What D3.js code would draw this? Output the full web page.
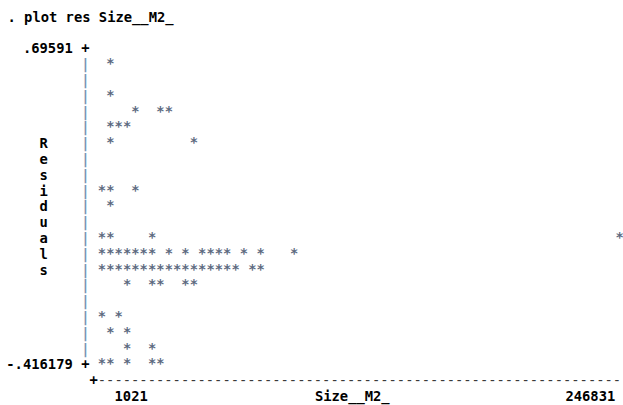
<!DOCTYPE html>
<html>
<head>
<meta charset="utf-8">
<script src="https://cdn.jsdelivr.net/npm/d3@7.9.0/dist/d3.min.js"></script>
<style>
  body { margin: 0; background: #fff; }
  svg text { font-family: "DejaVu Sans Mono", monospace; font-size: 13.8px; }
  .lbl { font-weight: bold; fill: #000; }
  .star { fill: #5d6a80; font-weight: bold; }
  .bar { fill: #7a92b2; font-weight: bold; }
  .dash { fill: #3a3a3a; }
</style>
</head>
<body>
<svg id="chart" width="623" height="405"></svg>
<script>
// residuals vs Size__M2_ (Stata text plot)
const sizeM2 = [
  5200,
  4700,
  17300, 28400, 33100,
  5400, 8600, 13200,
  4900, 44900,
  1900, 5300, 16600,
  4600,
  1500, 5100, 24500, 246831,
  2200, 4800, 9300, 12600, 17100, 20500, 25100, 32500, 40900, 48300, 52800, 56200, 60800, 68700, 76100, 92400,
  1300, 5500, 8800, 13100, 16800, 20900, 24600, 29000, 32900, 36500, 40400, 44800, 48900, 52400, 56700, 60300, 64600, 72200, 76600,
  12800, 24900, 28600, 40500, 44300,
  1700, 9100,
  4900, 13000,
  12700, 24700,
  1021, 5000, 12900, 24400, 29100
];
const residuals = [
  0.6402,
  0.5311,
  0.4702, 0.4781, 0.4655,
  0.4213, 0.4150, 0.4188,
  0.3607, 0.3652,
  0.1968, 0.1921, 0.1987,
  0.1384,
  0.0303, 0.0261, 0.0322, 0.0287,
  -0.0268, -0.0241, -0.0290, -0.0255, -0.0279, -0.0233, -0.0262, -0.0247, -0.0284, -0.0259, -0.0236, -0.0271, -0.0250, -0.0288, -0.0264, -0.0242,
  -0.0815, -0.0842, -0.0828, -0.0809, -0.0851, -0.0833, -0.0820, -0.0846, -0.0812, -0.0838, -0.0825, -0.0859, -0.0817, -0.0830, -0.0843, -0.0822, -0.0836, -0.0811, -0.0848,
  -0.1384, -0.1402, -0.1361, -0.1377, -0.1395,
  -0.2492, -0.2478,
  -0.3051, -0.3037,
  -0.3604, -0.3589,
  -0.416179, -0.4128, -0.4105, -0.4143, -0.4117
];
const yTickLabels = ['.69591', '-.416179'];
const xTickLabels = ['1021', '246831'];
const xTitle = 'Size__M2_';
const yTitle = 'Residuals';
const command = '. plot res Size__M2_';

const svg = d3.select('#chart');

// character grid
const cw = 8.35;
const col0 = 102;       // centre of plot column 0
const base0 = 53.3;     // baseline of plot row 0
const rh = 15.8;
const nCols = 62, nRows = 20;
const cx = c => col0 + c * cw;
const by = r => base0 + r * rh;

const x = d3.scaleLinear().domain([1021, 246831]).range([0, nCols]);
const y = d3.scaleLinear().domain([0.69591, -0.416179]).range([0, nRows]);

// command line
svg.append('text').attr('class', 'lbl')
  .attr('x', cx(-11) - cw / 2 + 1.5).attr('y', by(-2))
  .text(command);

// y axis: + at ends, | between
for (let r = 0; r <= nRows; r++) {
  const edge = r === 0 || r === nRows;
  svg.append('text')
    .attr('class', edge ? 'lbl' : 'bar')
    .attr('x', cx(-2)).attr('y', by(r))
    .attr('text-anchor', 'middle')
    .text(edge ? '+' : '|');
}

// y tick labels
[y.domain()[0], y.domain()[1]].forEach((v, i) => {
  svg.append('text').attr('class', 'lbl')
    .attr('x', cx(-4) + cw / 2).attr('y', by(Math.round(y(v))))
    .attr('text-anchor', 'end')
    .text(yTickLabels[i]);
});

// vertical y title
yTitle.split('').forEach((ch, i) => {
  svg.append('text').attr('class', 'lbl')
    .attr('x', cx(-7)).attr('y', by(6 + i))
    .attr('text-anchor', 'middle')
    .text(ch);
});

// x axis line
svg.append('text').attr('class', 'lbl')
  .attr('x', cx(-1)).attr('y', by(nRows + 1))
  .attr('text-anchor', 'middle').text('+');
svg.append('text').attr('class', 'dash')
  .attr('x', cx(0) - cw / 2).attr('y', by(nRows + 1))
  .text('-'.repeat(nCols + 1));

// x labels
svg.append('text').attr('class', 'lbl')
  .attr('x', cx(Math.round(x(x.domain()[0])) + 2) - cw / 2).attr('y', by(nRows + 2))
  .text(xTickLabels[0]);
svg.append('text').attr('class', 'lbl')
  .attr('x', cx(26) - cw / 2).attr('y', by(nRows + 2))
  .text(xTitle);
svg.append('text').attr('class', 'lbl')
  .attr('x', cx(Math.round(x(x.domain()[1])) - 6) - cw / 2).attr('y', by(nRows + 2))
  .text(xTickLabels[1]);

// points as asterisks on the grid
const pts = sizeM2.map((s, i) => ({ c: Math.round(x(s)), r: Math.round(y(residuals[i])) }));
svg.selectAll('text.star').data(pts).join('text')
  .attr('class', 'star')
  .attr('x', d => cx(d.c)).attr('y', d => by(d.r) - 1)
  .attr('text-anchor', 'middle')
  .text('*');
</script>
</body>
</html>
